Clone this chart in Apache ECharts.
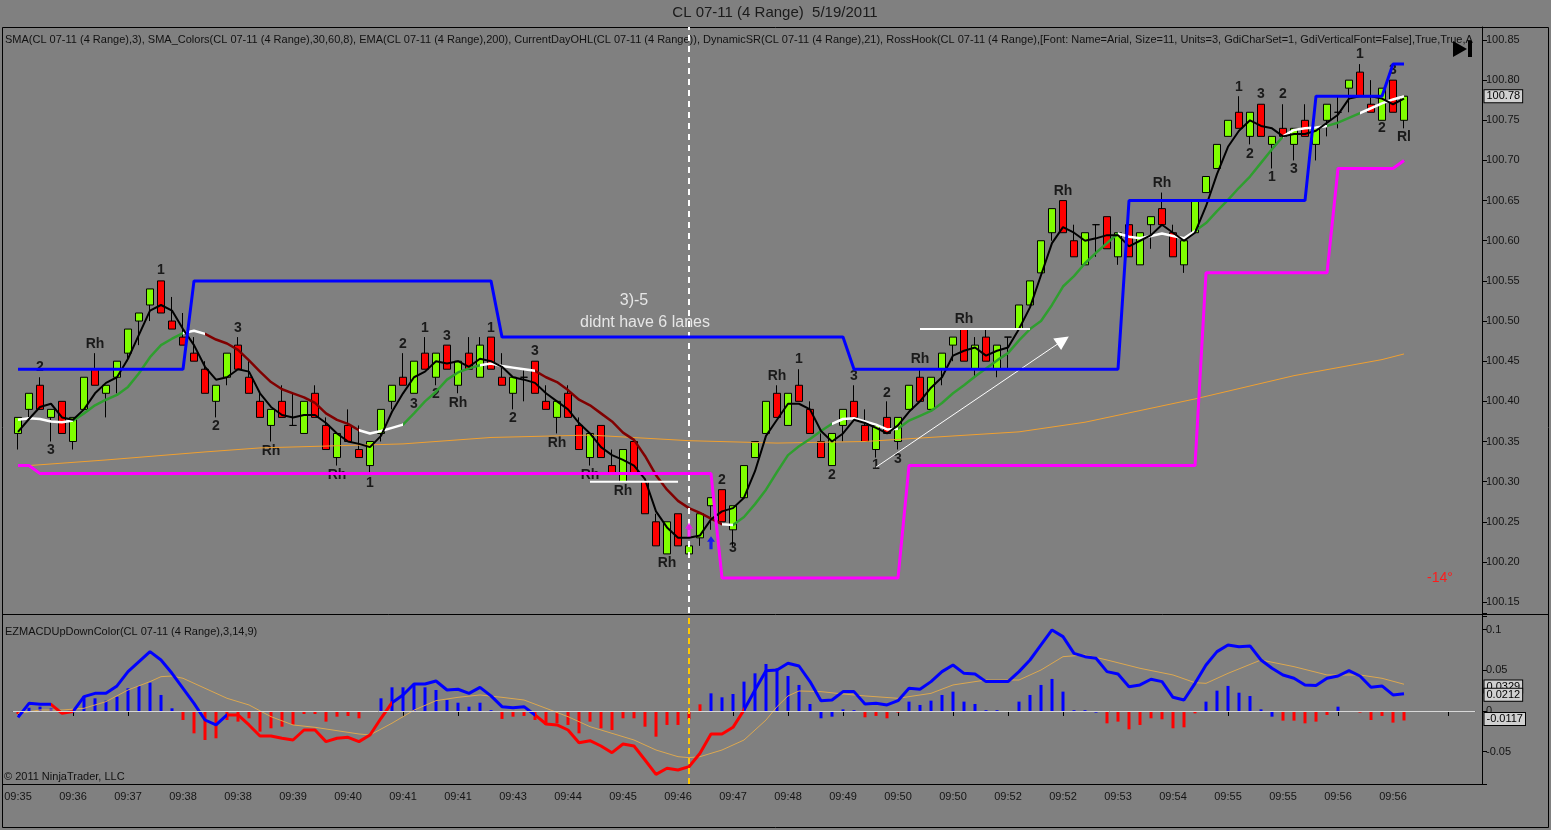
<!DOCTYPE html>
<html lang="en">
<head>
<meta charset="UTF-8">
<title>CL 07-11 (4 Range) 5/19/2011</title>
<script src="https://cdn.jsdelivr.net/npm/echarts@6/dist/echarts.min.js"></script>
<style>
html, body { margin: 0; padding: 0; background: #808080; }
#main { width: 1551px; height: 830px; }
</style>
</head>
<body>
<div id="main"></div>
<script>
// time labels, one every 5 bars
var tickLabels = ['09:35','09:36','09:37','09:38','09:38','09:39','09:40','09:41','09:41','09:43','09:44','09:45','09:46',
                  '09:47','09:48','09:49','09:50','09:50','09:52','09:52','09:53','09:54','09:55','09:55','09:56','09:56'];

// 4 range bars
var opens = [100.36,100.39,100.42,100.38,100.40,100.35,100.39,100.44,100.41,100.43,
  100.46,100.50,100.52,100.55,100.50,100.48,100.46,100.44,100.40,100.43,
  100.47,100.43,100.40,100.37,100.40,100.37,100.36,100.41,100.37,100.33,
  100.37,100.34,100.32,100.36,100.40,100.43,100.41,100.46,100.43,100.47,
  100.42,100.46,100.43,100.48,100.43,100.41,100.43,100.45,100.40,100.38,
  100.41,100.37,100.33,100.37,100.32,100.30,100.35,100.30,100.25,100.21,
  100.26,100.21,100.23,100.27,100.29,100.24,100.28,100.33,100.36,100.41,
  100.37,100.42,100.39,100.35,100.32,100.37,100.40,100.37,100.34,100.38,
  100.35,100.39,100.43,100.39,100.44,100.47,100.49,100.44,100.48,100.44,
  100.48,100.49,100.52,100.56,100.61,100.65,100.60,100.57,100.62,100.63,
  100.58,100.62,100.57,100.62,100.64,100.61,100.57,100.61,100.66,100.69,
  100.73,100.76,100.73,100.77,100.72,100.74,100.72,100.75,100.72,100.75,
  100.76,100.79,100.81,100.77,100.75,100.80,100.75];
var highs = [100.38,100.41,100.43,100.39,100.40,100.38,100.43,100.46,100.42,100.45,
  100.49,100.51,100.54,100.55,100.53,100.51,100.48,100.45,100.42,100.46,
  100.48,100.45,100.41,100.39,100.42,100.41,100.40,100.42,100.38,100.36,
  100.39,100.37,100.35,100.39,100.42,100.46,100.45,100.48,100.46,100.47,
  100.45,100.48,100.48,100.48,100.46,100.43,100.44,100.45,100.42,100.40,
  100.42,100.38,100.36,100.37,100.34,100.34,100.35,100.30,100.26,100.25,
  100.26,100.22,100.26,100.28,100.29,100.27,100.32,100.35,100.40,100.42,
  100.41,100.44,100.40,100.36,100.36,100.39,100.42,100.39,100.37,100.40,
  100.38,100.42,100.44,100.43,100.46,100.48,100.49,100.48,100.49,100.47,
  100.48,100.52,100.55,100.60,100.64,100.65,100.62,100.61,100.62,100.63,
  100.61,100.62,100.61,100.63,100.66,100.62,100.60,100.65,100.68,100.72,
  100.75,100.78,100.76,100.77,100.73,100.77,100.74,100.77,100.74,100.77,
  100.78,100.80,100.82,100.80,100.79,100.80,100.78];
var lows = [100.34,100.38,100.39,100.35,100.36,100.34,100.39,100.42,100.38,100.41,
  100.45,100.47,100.50,100.51,100.49,100.47,100.45,100.41,100.38,100.42,
  100.44,100.41,100.38,100.35,100.38,100.37,100.36,100.38,100.34,100.32,
  100.35,100.33,100.31,100.35,100.39,100.42,100.41,100.44,100.42,100.44,
  100.41,100.44,100.43,100.44,100.42,100.39,100.40,100.41,100.39,100.36,
  100.38,100.34,100.32,100.33,100.31,100.30,100.31,100.26,100.22,100.21,
  100.22,100.21,100.22,100.24,100.25,100.22,100.28,100.33,100.36,100.38,
  100.37,100.40,100.36,100.33,100.32,100.35,100.38,100.35,100.33,100.36,
  100.34,100.39,100.40,100.39,100.42,100.45,100.45,100.43,100.45,100.43,
  100.44,100.49,100.52,100.56,100.60,100.61,100.58,100.57,100.58,100.59,
  100.57,100.58,100.57,100.59,100.62,100.58,100.56,100.61,100.66,100.69,
  100.73,100.74,100.72,100.73,100.69,100.73,100.70,100.73,100.70,100.73,
  100.74,100.76,100.78,100.76,100.75,100.76,100.74];
var closes = [100.38,100.41,100.39,100.39,100.36,100.38,100.43,100.42,100.42,100.45,
  100.49,100.51,100.54,100.51,100.49,100.47,100.45,100.41,100.42,100.46,
  100.44,100.41,100.38,100.39,100.38,100.37,100.40,100.38,100.34,100.36,
  100.35,100.33,100.35,100.39,100.42,100.42,100.45,100.44,100.46,100.44,
  100.45,100.44,100.47,100.44,100.42,100.43,100.43,100.41,100.39,100.40,
  100.38,100.34,100.36,100.33,100.31,100.34,100.31,100.26,100.22,100.25,
  100.22,100.22,100.26,100.28,100.25,100.27,100.32,100.35,100.40,100.38,
  100.41,100.40,100.36,100.33,100.36,100.39,100.38,100.35,100.37,100.36,
  100.38,100.42,100.40,100.43,100.46,100.48,100.45,100.47,100.45,100.47,
  100.48,100.52,100.55,100.60,100.64,100.61,100.58,100.61,100.62,100.59,
  100.61,100.58,100.61,100.63,100.62,100.58,100.60,100.65,100.68,100.72,
  100.75,100.74,100.76,100.73,100.73,100.73,100.74,100.73,100.74,100.77,
  100.76,100.80,100.78,100.76,100.79,100.76,100.78];

// SMA(3), black
var sma3 = [100.362,100.378,100.393,100.397,100.380,100.377,100.390,100.410,100.423,100.430,
  100.453,100.483,100.513,100.520,100.513,100.490,100.470,100.443,100.427,100.430,
  100.440,100.437,100.410,100.393,100.383,100.380,100.383,100.383,100.373,100.360,
  100.350,100.347,100.343,100.357,100.387,100.410,100.430,100.437,100.450,100.447,
  100.450,100.443,100.453,100.450,100.443,100.430,100.427,100.423,100.410,100.400,
  100.390,100.373,100.360,100.343,100.333,100.327,100.320,100.303,100.263,100.243,
  100.230,100.230,100.233,100.253,100.263,100.267,100.280,100.313,100.357,100.377,
  100.397,100.397,100.390,100.363,100.350,100.360,100.377,100.373,100.367,100.360,
  100.370,100.387,100.400,100.417,100.430,100.457,100.463,100.467,100.457,100.463,
  100.467,100.490,100.517,100.557,100.597,100.617,100.610,100.600,100.603,100.607,
  100.607,100.593,100.600,100.607,100.620,100.610,100.600,100.610,100.643,100.683,
  100.717,100.737,100.750,100.743,100.740,100.730,100.733,100.733,100.737,100.747,
  100.757,100.777,100.780,100.780,100.777,100.770,100.777];

// SMA_Colors(30,60,8)
var maColored = [100.377,100.379,100.378,100.375,100.374,100.376,100.385,100.395,100.402,100.408,
  100.418,100.435,100.455,100.470,100.478,100.485,100.488,100.484,100.477,100.472,
  100.464,100.451,100.437,100.424,100.415,100.410,100.405,100.398,100.385,100.377,
  100.372,100.364,100.360,100.363,100.367,100.371,100.385,100.400,100.412,100.427,
  100.436,100.441,100.445,100.447,100.444,100.442,100.440,100.438,100.430,100.424,
  100.414,100.402,100.395,100.385,100.375,100.361,100.352,100.332,100.308,100.290,
  100.276,100.267,100.261,100.254,100.247,100.246,100.256,100.272,100.290,100.312,
  100.333,100.344,100.353,100.363,100.372,100.378,100.379,100.375,100.371,100.365,
  100.366,100.376,100.382,100.388,100.398,100.410,100.420,100.431,100.441,100.451,
  100.460,100.476,100.490,100.500,100.520,100.543,100.556,100.572,100.585,100.597,
  100.609,100.605,100.603,100.606,100.609,100.606,100.603,100.612,100.622,100.637,
  100.651,100.666,100.680,100.697,100.714,100.730,100.738,100.740,100.741,100.743,
  100.747,100.753,100.759,100.765,100.771,100.776,100.780];
var maSegs = [[0,5,'flat'],[5,15,'up'],[15,17,'flat'],[17,31,'down'],[31,35,'flat'],[35,42,'up'],
  [42,47,'flat'],[47,64,'down'],[64,65,'flat'],[65,74,'up'],[74,80,'flat'],[80,100,'up'],
  [100,107,'flat'],[107,115,'up'],[115,119,'flat'],[119,122,'up'],[122,200,'flat']];

// EMA(200)
var emaPts = [[0,100.319],[8,100.327],[17,100.337],[22,100.342],[35,100.347],[43,100.355],[52,100.358],
  [61,100.351],[69,100.348],[77,100.350],[84,100.356],[91,100.362],[97,100.374],[107,100.403],
  [116,100.432],[124,100.452],[126,100.459]];

// CurrentDayOHL high / low
var dayHigh = [[0,100.44],[15,100.44],[16,100.55],[43,100.55],[44,100.48],[75,100.48],[76,100.44],
  [100,100.44],[101,100.65],[117,100.65],[118,100.78],[124,100.78],[125,100.82],[126,100.82]];
var dayLow = [[0,100.32],[1,100.32],[2,100.31],[63,100.31],[64,100.18],[80,100.18],[81,100.32],
  [107,100.32],[108,100.56],[119,100.56],[120,100.69],[125,100.69],[126,100.70]];

// DynamicSR levels [fromBar, toBar, price]
var srLevels = [[52,60,100.30],[82,92,100.49]];
var trendArrow = [[78,100.318],[95,100.476]];
var sessionBar = 61;

// RossHook labels [bar, price, text]
var rossLabels = [[2,100.442,'2'],[3,100.339,'3'],[7,100.471,'Rh'],[13,100.563,'1'],[18,100.369,'2'],
  [20,100.491,'3'],[23,100.338,'Rh'],[29,100.308,'Rh'],[32,100.298,'1'],[35,100.471,'2'],
  [36,100.397,'3'],[37,100.491,'1'],[38,100.409,'2'],[39,100.481,'3'],[40,100.398,'Rh'],
  [43,100.491,'1'],[45,100.379,'2'],[47,100.463,'3'],[49,100.348,'Rh'],[52,100.308,'Rh'],
  [55,100.288,'Rh'],[59,100.199,'Rh'],[64,100.302,'2'],[65,100.217,'3'],[69,100.432,'Rh'],
  [71,100.452,'1'],[74,100.308,'2'],[76,100.432,'3'],[78,100.321,'1'],[79,100.410,'2'],
  [80,100.328,'3'],[82,100.452,'Rh'],[86,100.502,'Rh'],[95,100.662,'Rh'],[104,100.672,'Rh'],
  [111,100.791,'1'],[112,100.708,'2'],[113,100.783,'3'],[114,100.679,'1'],[115,100.783,'2'],
  [116,100.689,'3'],[122,100.833,'1'],[124,100.740,'2'],[125,100.813,'3'],[126,100.729,'Rl']];
var notes = [[56,100.526,'3)-5'],[57,100.498,'didnt have 6 lanes']];
var arrowsPink = [[61,100.240]];
var arrowsBlue = [[63,100.224]];

// EZMACD
var macd = [-0.0078,0.0094,0.0082,0.0082,-0.0029,-0.0008,0.0176,0.0217,0.0217,0.0308,
  0.0484,0.0607,0.0730,0.0627,0.0463,0.0279,0.0094,-0.0111,-0.0172,-0.0049,
  -0.0049,-0.0172,-0.0308,-0.0308,-0.0336,-0.0357,-0.0234,-0.0234,-0.0377,-0.0336,
  -0.0324,-0.0377,-0.0295,-0.0090,0.0102,0.0197,0.0332,0.0332,0.0369,0.0258,
  0.0267,0.0217,0.0291,0.0185,0.0053,0.0041,0.0053,-0.0049,-0.0160,-0.0172,
  -0.0234,-0.0390,-0.0365,-0.0431,-0.0513,-0.0406,-0.0431,-0.0603,-0.0779,-0.0705,
  -0.0726,-0.0685,-0.0520,-0.0283,-0.0283,-0.0201,0.0012,0.0258,0.0496,0.0504,
  0.0586,0.0553,0.0361,0.0127,0.0135,0.0238,0.0238,0.0086,0.0094,0.0074,
  0.0127,0.0279,0.0267,0.0361,0.0484,0.0566,0.0463,0.0455,0.0361,0.0361,
  0.0361,0.0484,0.0627,0.0812,0.0996,0.0914,0.0709,0.0668,0.0648,0.0484,
  0.0455,0.0299,0.0320,0.0390,0.0361,0.0168,0.0135,0.0340,0.0566,0.0730,
  0.0812,0.0791,0.0800,0.0627,0.0525,0.0443,0.0402,0.0320,0.0312,0.0402,
  0.0430,0.0496,0.0430,0.0291,0.0308,0.0197,0.0212];
var macdSegs = [[0,3,'up'],[3,5,'down'],[5,19,'up'],[19,34,'down'],[34,47,'up'],[47,66,'down'],[66,200,'up']];
var macdAvgPts = [[0,-0.0029],[2,0.0012],[4,0.0012],[6,0.0033],[8,0.0115],[10,0.0258],[12,0.0361],
  [13,0.0422],[14,0.0430],[15,0.0402],[17,0.0279],[19,0.0156],[21,0.0074],[23,-0.0070],[25,-0.0172],
  [27,-0.0201],[29,-0.0242],[31,-0.0283],[32,-0.0295],[34,-0.0150],[36,0.0010],[38,0.0127],
  [40,0.0168],[42,0.0197],[44,0.0168],[46,0.0135],[48,0.0033],[50,-0.0070],[52,-0.0193],
  [54,-0.0275],[56,-0.0357],[58,-0.0480],[60,-0.0562],[61,-0.0574],[62,-0.0562],[64,-0.0480],
  [66,-0.0357],[68,-0.0111],[69,0.0053],[70,0.0185],[71,0.0246],[73,0.0238],[75,0.0209],
  [77,0.0185],[80,0.0156],[83,0.0217],[85,0.0320],[88,0.0381],[91,0.0381],[93,0.0504],
  [95,0.0668],[97,0.0689],[99,0.0627],[102,0.0525],[105,0.0443],[107,0.0348],[108,0.0340],
  [110,0.0463],[113,0.0627],[116,0.0545],[119,0.0443],[122,0.0443],[124,0.0402],[126,0.0329]];
var hist = [-0.0037,0.0040,0.0053,0.0030,-0.0020,-0.0010,0.0184,0.0156,0.0127,0.0176,
  0.0279,0.0308,0.0349,0.0197,0.0033,-0.0111,-0.0275,-0.0357,-0.0336,-0.0111,
  -0.0131,-0.0090,-0.0254,-0.0213,-0.0193,-0.0172,-0.0037,-0.0037,-0.0131,-0.0070,
  -0.0061,-0.0090,-0.0010,0.0156,0.0291,0.0291,0.0320,0.0291,0.0258,0.0135,
  0.0102,0.0053,0.0102,0.0010,-0.0098,-0.0070,-0.0061,-0.0111,-0.0172,-0.0152,
  -0.0172,-0.0275,-0.0131,-0.0213,-0.0234,-0.0090,-0.0090,-0.0193,-0.0316,-0.0172,
  -0.0172,-0.0100,0.0082,0.0217,0.0168,0.0209,0.0361,0.0463,0.0578,0.0525,
  0.0430,0.0320,0.0086,-0.0090,-0.0070,0.0020,0.0010,-0.0078,-0.0061,-0.0090,
  -0.0020,0.0115,0.0074,0.0127,0.0197,0.0238,0.0115,0.0086,0.0010,0.0010,
  0.0000,0.0115,0.0197,0.0320,0.0394,0.0238,0.0010,0.0010,-0.0020,-0.0152,
  -0.0131,-0.0226,-0.0172,-0.0090,-0.0102,-0.0213,-0.0201,-0.0029,0.0115,0.0250,
  0.0308,0.0225,0.0184,0.0020,-0.0070,-0.0119,-0.0119,-0.0152,-0.0131,-0.0049,
  0.0053,0.0000,-0.0020,-0.0111,-0.0061,-0.0143,-0.0117];
var histUpRanges = [[1,3],[6,14],[33,43],[63,76],[81,98],[108,114],[120,121]];

var FONT = '"Liberation Sans", Arial, sans-serif';
var SLOTS = 133;
var cats = [];
for (var i = 0; i < SLOTS; i++) cats.push(String(i));

var candleData = opens.map(function (o, i) { return [o, closes[i], lows[i], highs[i]]; });

function isUpBar(i) {
    return histUpRanges.some(function (r) { return i >= r[0] && i <= r[1]; });
}
var histUp = hist.map(function (v, i) { return isUpBar(i) ? v : null; });
var histDown = hist.map(function (v, i) { return isUpBar(i) ? null : v; });

var maColors = { up: '#2f9e2f', flat: '#ffffff', down: '#800000' };
var macdColors = { up: '#0000ff', down: '#ff0000' };

// last-value box on the price scale
function valueBox(v, text) {
    return {
        yAxis: v,
        lineStyle: { color: 'rgba(0,0,0,0)', width: 1 },
        label: {
            show: true, position: 'end', distance: 9, formatter: text,
            backgroundColor: '#d0d0d0', borderColor: '#000', borderWidth: 1,
            padding: [1, 2, 0, 2], color: '#000', fontSize: 11, fontFamily: FONT
        }
    };
}

var series = [];
function add(s) { series.push(s); return series.length - 1; }

add({
    type: 'candlestick', data: candleData, barWidth: 7, z: 2, clip: false,
    itemStyle: { color: '#80ff00', color0: '#ff0000', borderColor: '#000', borderColor0: '#000', borderColorDoji: '#000', borderWidth: 1 },
    markLine: {
        silent: true, symbol: ['none', 'none'], animation: false,
        data: [
            { xAxis: sessionBar, lineStyle: { color: '#ffffff', width: 2, type: [6, 5] }, label: { show: false } },
            valueBox(closes[closes.length - 1], closes[closes.length - 1].toFixed(2))
        ]
    }
});
add({ type: 'line', data: emaPts, symbol: 'none', z: 3, lineStyle: { color: '#f0a030', width: 1 } });
var maIdx = add({ type: 'line', data: maColored, symbol: 'none', z: 3, lineStyle: { width: 2.5 } });
add({ type: 'line', data: sma3, symbol: 'none', z: 4, lineStyle: { color: '#000', width: 2 } });
add({ type: 'line', data: dayHigh, symbol: 'none', z: 5, lineStyle: { color: '#0000ff', width: 3 } });
add({ type: 'line', data: dayLow, symbol: 'none', z: 5, lineStyle: { color: '#ff00ff', width: 3 } });
srLevels.forEach(function (s, k) {
    var item = {
        type: 'line', data: [[s[0], s[2]], [s[1], s[2]]], symbol: 'none', z: 5,
        lineStyle: { color: '#ffffff', width: 2 }
    };
    if (k === 0) {
        item.markLine = {
            silent: true, symbol: ['none', 'triangle'], symbolSize: 14, animation: false,
            lineStyle: { color: '#ffffff', width: 1, type: 'solid' }, label: { show: false },
            data: [[{ coord: trendArrow[0] }, { coord: trendArrow[1] }]]
        };
    }
    add(item);
});
add({
    type: 'scatter', data: rossLabels, symbolSize: 1, z: 1, itemStyle: { color: 'rgba(0,0,0,0)' },
    label: { show: true, position: 'inside', formatter: function (p) { return p.value[2]; },
        color: '#000', fontWeight: 'bold', fontSize: 14, fontFamily: FONT }
});
add({
    type: 'scatter', data: notes, symbolSize: 1, z: 6, itemStyle: { color: 'rgba(0,0,0,0)' },
    label: { show: true, position: 'inside', formatter: function (p) { return p.value[2]; },
        color: '#fff', fontSize: 16, fontFamily: FONT }
});
var arrowPath = 'path://M5,0 L10,6 L7,6 L7,14 L3,14 L3,6 L0,6 Z';
add({ type: 'scatter', data: arrowsPink, symbol: arrowPath, symbolSize: [8, 14], z: 7, itemStyle: { color: '#ff00ff' } });
add({ type: 'scatter', data: arrowsBlue, symbol: arrowPath, symbolSize: [8, 13], z: 7, itemStyle: { color: '#0000ff' } });

// lower panel
add({ type: 'bar', xAxisIndex: 1, yAxisIndex: 1, data: histUp, barWidth: 3, barGap: '-100%', itemStyle: { color: '#0000ff' } });
add({
    type: 'bar', xAxisIndex: 1, yAxisIndex: 1, data: histDown, barWidth: 3, barGap: '-100%', clip: false,
    itemStyle: { color: '#ff0000' },
    markLine: {
        silent: true, symbol: ['none', 'none'], animation: false,
        data: [
            { yAxis: 0, lineStyle: { color: '#d8d8d8', width: 1, type: 'solid' }, label: { show: false } },
            { xAxis: sessionBar, lineStyle: { color: '#ffc800', width: 2, type: [6, 4] }, label: { show: false } },
            valueBox(hist[hist.length - 1], hist[hist.length - 1].toFixed(4))
        ]
    }
});
var lastAvg = macdAvgPts[macdAvgPts.length - 1][1];
add({
    type: 'line', xAxisIndex: 1, yAxisIndex: 1, data: macdAvgPts, symbol: 'none', z: 3, clip: false,
    lineStyle: { color: '#dca850', width: 1 },
    markLine: { silent: true, symbol: ['none', 'none'], animation: false, data: [valueBox(lastAvg, lastAvg.toFixed(4))] }
});
var macdIdx = add({
    type: 'line', xAxisIndex: 1, yAxisIndex: 1, data: macd, symbol: 'none', z: 4, clip: false,
    lineStyle: { width: 3 },
    markLine: { silent: true, symbol: ['none', 'none'], animation: false,
        data: [valueBox(macd[macd.length - 1], macd[macd.length - 1].toFixed(4))] }
});

function pieces(segs, colors) {
    return segs.map(function (s) { return { gte: s[0], lt: s[1], color: colors[s[2]] }; });
}

function onStep(v, step) { return Math.abs(v / step - Math.round(v / step)) < 1e-6; }

var axisText = { color: '#141414', fontSize: 11, fontFamily: FONT };

var option = {
    backgroundColor: '#808080',
    animation: false,
    textStyle: { fontFamily: FONT },
    grid: [
        { left: 12.5, top: 27, width: 1463, height: 586, show: false },
        { left: 12.5, top: 616, width: 1463, height: 168, show: false }
    ],
    xAxis: [
        { type: 'category', gridIndex: 0, data: cats, boundaryGap: true,
          axisLine: { show: false }, axisTick: { show: false }, axisLabel: { show: false }, splitLine: { show: false } },
        { type: 'category', gridIndex: 1, data: cats, boundaryGap: true,
          axisLine: { show: true, lineStyle: { color: '#000' } },
          axisTick: { show: true, interval: 4, alignWithLabel: true, length: 5, lineStyle: { color: '#000' } },
          axisLabel: Object.assign({ interval: 4, margin: 7,
              formatter: function (v, idx) { return tickLabels[idx / 5] || ''; } }, axisText),
          splitLine: { show: false } }
    ],
    yAxis: [
        { type: 'value', gridIndex: 0, position: 'right', offset: 6.5,
          min: 100.1364, max: 100.8662, splitNumber: 14, scale: true,
          axisLine: { show: true, lineStyle: { color: '#000' } },
          axisTick: { show: true, length: 5, lineStyle: { color: '#000' } },
          splitLine: { show: false },
          axisLabel: Object.assign({ margin: 4,
              formatter: function (v) { return onStep(v, 0.05) ? v.toFixed(2) : ''; } }, axisText) },
        { type: 'value', gridIndex: 1, position: 'right', offset: 6.5,
          min: -0.0898, max: 0.1168, splitNumber: 4,
          axisLine: { show: true, lineStyle: { color: '#000' } },
          axisTick: { show: true, length: 5, lineStyle: { color: '#000' } },
          splitLine: { show: false },
          axisLabel: Object.assign({ margin: 4,
              formatter: function (v) { return onStep(v, 0.05) ? String(Math.round(v * 100) / 100) : ''; } }, axisText) }
    ],
    visualMap: [
        { show: false, type: 'piecewise', seriesIndex: maIdx, dimension: 0,
          pieces: pieces(maSegs, maColors), outOfRange: { color: '#ffffff' } },
        { show: false, type: 'piecewise', seriesIndex: macdIdx, dimension: 0,
          pieces: pieces(macdSegs, macdColors), outOfRange: { color: '#0000ff' } }
    ],
    graphic: [
        { type: 'rect', silent: true, shape: { x: 2.5, y: 27.5, width: 1546, height: 800 },
          style: { fill: 'none', stroke: '#000', lineWidth: 1 } },
        { type: 'line', silent: true, shape: { x1: 2, y1: 614.5, x2: 1549, y2: 614.5 }, style: { stroke: '#000', lineWidth: 1 } },
        { type: 'line', silent: true, shape: { x1: 2, y1: 784.5, x2: 1482, y2: 784.5 }, style: { stroke: '#000', lineWidth: 1 } },
        { type: 'line', silent: true, shape: { x1: 1482.5, y1: 27, x2: 1482.5, y2: 785 }, style: { stroke: '#000', lineWidth: 1 } },
        { type: 'text', silent: true, x: 775, y: 13,
          style: { text: 'CL 07-11 (4 Range)  5/19/2011', font: '15px ' + FONT, fill: '#1a1a1a', align: 'center', verticalAlign: 'middle' } },
        { type: 'text', silent: true, x: 5, y: 40,
          style: { text: 'SMA(CL 07-11 (4 Range),3), SMA_Colors(CL 07-11 (4 Range),30,60,8), EMA(CL 07-11 (4 Range),200), CurrentDayOHL(CL 07-11 (4 Range)), DynamicSR(CL 07-11 (4 Range),21), RossHook(CL 07-11 (4 Range),[Font: Name=Arial, Size=11, Units=3, GdiCharSet=1, GdiVerticalFont=False],True,True,A',
                   font: '11px ' + FONT, fill: '#111', align: 'left', verticalAlign: 'middle', width: 1475, overflow: 'truncate', ellipsis: '' } },
        { type: 'text', silent: true, x: 5, y: 632,
          style: { text: 'EZMACDUpDownColor(CL 07-11 (4 Range),3,14,9)', font: '11px ' + FONT, fill: '#111', align: 'left', verticalAlign: 'middle' } },
        { type: 'text', silent: true, x: 4, y: 777,
          style: { text: '\u00a9 2011 NinjaTrader, LLC', font: '11px ' + FONT, fill: '#111', align: 'left', verticalAlign: 'middle' } },
        { type: 'text', silent: true, x: 1440, y: 578,
          style: { text: '-14\u00b0', font: '14px ' + FONT, fill: '#ff1a1a', align: 'center', verticalAlign: 'middle' } },
        { type: 'polygon', silent: true, shape: { points: [[1453, 41], [1467, 49], [1453, 57]] }, style: { fill: '#000' } },
        { type: 'rect', silent: true, shape: { x: 1468, y: 41, width: 4, height: 16 }, style: { fill: '#000' } }
    ],
    series: series
};

var chart = echarts.init(document.getElementById('main'));
chart.setOption(option);
</script>
</body>
</html>
